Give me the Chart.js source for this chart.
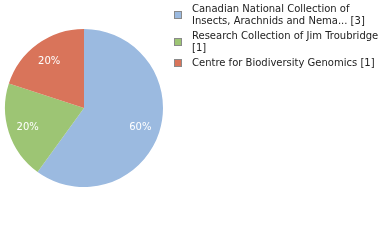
<!DOCTYPE html>
<html>
<head>
<meta charset="utf-8">
<script src="https://cdn.jsdelivr.net/npm/chart.js@4"></script>
<style>
  html, body { margin: 0; padding: 0; background: #ffffff; }
  #wrap { width: 380px; height: 240px; position: relative; }
</style>
</head>
<body>
<div id="wrap"><canvas id="pieChart" width="380" height="240"></canvas></div>
<script>
// Data
const labels = [
    ["Canadian National Collection of", "Insects, Arachnids and Nema... [3]"],
    ["Research Collection of Jim Troubridge", "[1]"],
    ["Centre for Biodiversity Genomics [1]"]
];
const counts = [3, 1, 1];
const colors = ["#9bbae0", "#9dc574", "#d9745a"];

const FONT = "DejaVu Sans";

// Percent labels inside slices
const percentLabels = {
    id: "percentLabels",
    afterDatasetsDraw(chart){
        const ctx = chart.ctx;
        const meta = chart.getDatasetMeta(0);
        const total = counts.reduce((a, b) => a + b, 0);
        ctx.save();
        ctx.fillStyle = "#ffffff";
        ctx.font = "10px '" + FONT + "'";
        ctx.textAlign = "center";
        ctx.textBaseline = "middle";
        meta.data.forEach((arc, i) => {
            const p = arc.getProps(["x", "y", "startAngle", "endAngle", "outerRadius"], true);
            const mid = (p.startAngle + p.endAngle) / 2;
            const r = p.outerRadius * 0.75;
            const pct = Math.round(counts[i] / total * 100) + "%";
            ctx.fillText(pct, p.x + Math.cos(mid) * r, p.y + Math.sin(mid) * r + 1);
        });
        ctx.restore();
    }
};

// Legend on the right, multi-line entries
const sideLegend = {
    id: "sideLegend",
    afterDraw(chart){
        const ctx = chart.ctx;
        const lineH = 12;
        const tops = [4, 31, 58];
        ctx.save();
        ctx.font = "10px '" + FONT + "'";
        ctx.textBaseline = "top";
        labels.forEach((lines, i) => {
            const top = tops[i];
            const h = lines.length * lineH;
            const cy = Math.round(top + h / 2) - 1;
            ctx.fillStyle = colors[i];
            ctx.fillRect(174.5, cy - 3.5, 7, 7);
            ctx.strokeStyle = "#8a8a8a";
            ctx.lineWidth = 1;
            ctx.strokeRect(174.5, cy - 3.5, 7, 7);
            ctx.fillStyle = "#222222";
            lines.forEach((t, j) => ctx.fillText(t, 192, top + j * lineH));
        });
        ctx.restore();
    }
};

new Chart(document.getElementById("pieChart"), {
    type: "pie",
    data: {
        labels: labels,
        datasets: [{
            data: counts,
            backgroundColor: colors,
            borderWidth: 0
        }]
    },
    options: {
        responsive: false,
        animation: false,
        layout: { padding: { left: 5, top: 29, right: 217, bottom: 53 } },
        plugins: {
            legend: { display: false },
            tooltip: { enabled: false }
        }
    },
    plugins: [percentLabels, sideLegend]
});
</script>
</body>
</html>
